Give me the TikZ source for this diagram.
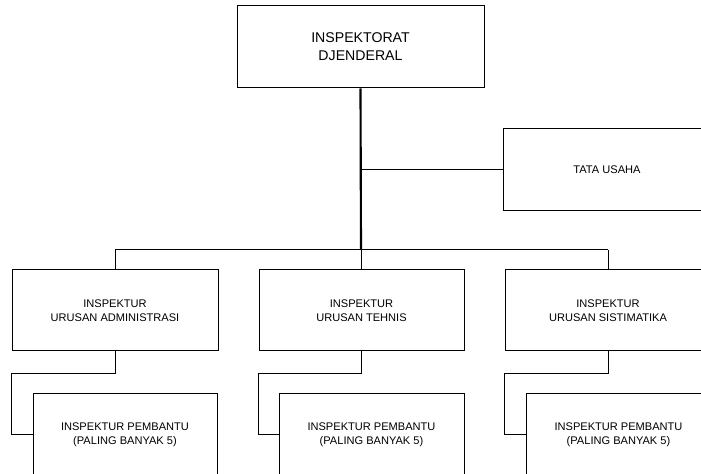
\documentclass[tikz,border=0pt]{standalone}
\usepackage{fontspec}
\setmainfont{Liberation Sans}
\begin{document}
\begin{tikzpicture}[x=0.75pt,y=-0.75pt,
  box/.style={draw,line width=0.75pt,inner sep=0pt,align=center,font=\fontsize{8.3pt}{10.5pt}\selectfont},
  topbox/.style={box,font=\fontsize{10.6pt}{13.5pt}\selectfont},
  thin/.style={line width=0.75pt},
  thick line/.style={line width=1.6pt}]
\useasboundingbox (0,0) rectangle (701,474);
\clip (0,0) rectangle (701,474);
\node[topbox,minimum width=247*0.75pt,minimum height=82*0.75pt] (top) at (360.5,47) {INSPEKTORAT\\DJENDERAL};
\node[box,minimum width=208*0.75pt,minimum height=82*0.75pt] (tata) at (607,170) {TATA USAHA};
\node[box,minimum width=206*0.75pt,minimum height=81*0.75pt] (a1) at (115,310.5) {INSPEKTUR\\URUSAN ADMINISTRASI};
\node[box,minimum width=205*0.75pt,minimum height=81*0.75pt] (a2) at (361.5,310.5) {INSPEKTUR\\URUSAN TEHNIS};
\node[box,minimum width=206*0.75pt,minimum height=81*0.75pt] (a3) at (608,310.5) {INSPEKTUR\\URUSAN SISTIMATIKA};
\node[box,minimum width=184*0.75pt,minimum height=81*0.75pt] (b1) at (125,434.5) {INSPEKTUR PEMBANTU\\(PALING BANYAK 5)};
\node[box,minimum width=185*0.75pt,minimum height=81*0.75pt] (b2) at (371.5,434.5) {INSPEKTUR PEMBANTU\\(PALING BANYAK 5)};
\node[box,minimum width=185*0.75pt,minimum height=81*0.75pt] (b3) at (618.5,434.5) {INSPEKTUR PEMBANTU\\(PALING BANYAK 5)};
\coordinate (bus) at (361,250);
\draw[thick line] (top.south) -- (bus);
\draw[thin] (top.south |- tata.west) -- (tata.west);
\draw[thin] (a1.north |- bus) -- (a3.north |- bus);
\draw[thin] (a1.north |- bus) -- (a1.north);
\draw[thin] (a2.north |- bus) -- (a2.north);
\draw[thin] (a3.north |- bus) -- (a3.north);
\draw[thin] (a1.south) -- ++(0,22) coordinate (k1) -- (k1 -| a1.west) |- (b1.west);
\draw[thin] (a2.south) -- ++(0,22) coordinate (k2) -- (k2 -| a2.west) |- (b2.west);
\draw[thin] (a3.south) -- ++(0,22) coordinate (k3) -- (k3 -| a3.west) |- (b3.west);
\end{tikzpicture}
\end{document}
